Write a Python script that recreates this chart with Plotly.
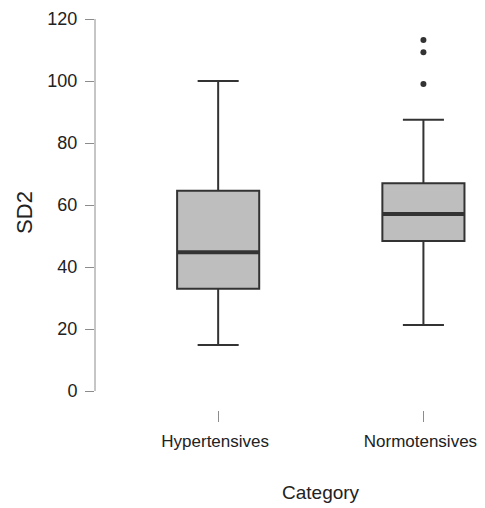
import plotly.graph_objects as go

categories = ["Hypertensives", "Normotensives"]
lower_whisker = [14.8, 21.3]
q1 = [33.0, 48.4]
median = [44.8, 57.1]
q3 = [64.6, 67.0]
upper_whisker = [100.0, 87.5]
outlier_cat = ["Normotensives", "Normotensives", "Normotensives"]
outlier_vals = [113.2, 109.3, 99.0]
y_ticks = [0, 20, 40, 60, 80, 100, 120]

FONT = "Liberation Sans, Arial, sans-serif"
DARK = "#333333"
AXIS = "#8c8c8c"

fig = go.Figure()
fig.add_trace(go.Box(
    x=categories, q1=q1, median=median, q3=q3,
    lowerfence=lower_whisker, upperfence=upper_whisker,
    fillcolor="#bebebe", line=dict(color=DARK, width=2),
    whiskerwidth=0.5, boxpoints=False, showlegend=False,
))
fig.add_trace(go.Scatter(
    x=outlier_cat, y=outlier_vals, mode="markers",
    marker=dict(color=DARK, size=6), showlegend=False,
))

# thick median lines
for i, m in enumerate(median):
    fig.add_shape(type="line", xref="x", yref="y", x0=i - 0.2, x1=i + 0.2,
                  y0=m, y1=m, line=dict(color=DARK, width=4))

# R-style y axis line spanning only the tick range
fig.add_shape(type="line", xref="paper", yref="y", x0=0, x1=0,
              y0=y_ticks[0], y1=y_ticks[-1], line=dict(color=AXIS, width=1))

fig.add_annotation(text="Category", xref="paper", yref="paper", x=0.58, y=-0.21,
                   yanchor="middle", showarrow=False,
                   font=dict(family=FONT, size=19, color="#222"))

# page body has an 8px margin, so the figure is 8px smaller than the window
fig.update_layout(
    width=477, height=500,
    margin=dict(l=87, r=0, t=7, b=98),
    plot_bgcolor="white", paper_bgcolor="white",
    boxgap=0.6, boxgroupgap=0,
    font=dict(family=FONT, color="#222"),
    xaxis=dict(type="category", categoryorder="array", categoryarray=categories,
               range=[-0.6, 1.3], showline=False, showgrid=False, zeroline=False,
               automargin=False,
               ticks="outside", ticklen=11, tickcolor=AXIS, tickwidth=1,
               ticklabelstandoff=5, ticklabelshift=-3,
               tickfont=dict(family=FONT, size=17, color="#222")),
    yaxis=dict(range=[-6.13, 121.3], tickvals=y_ticks, showline=False, showgrid=False,
               zeroline=False, automargin=False,
               ticks="outside", ticklen=9, tickcolor=AXIS, tickwidth=1,
               ticklabelstandoff=4,
               tickfont=dict(family=FONT, size=18, color="#222"),
               title=dict(text="SD2", font=dict(family=FONT, size=22, color="#222"),
                          standoff=8)),
)

fig.write_html("out.html")
